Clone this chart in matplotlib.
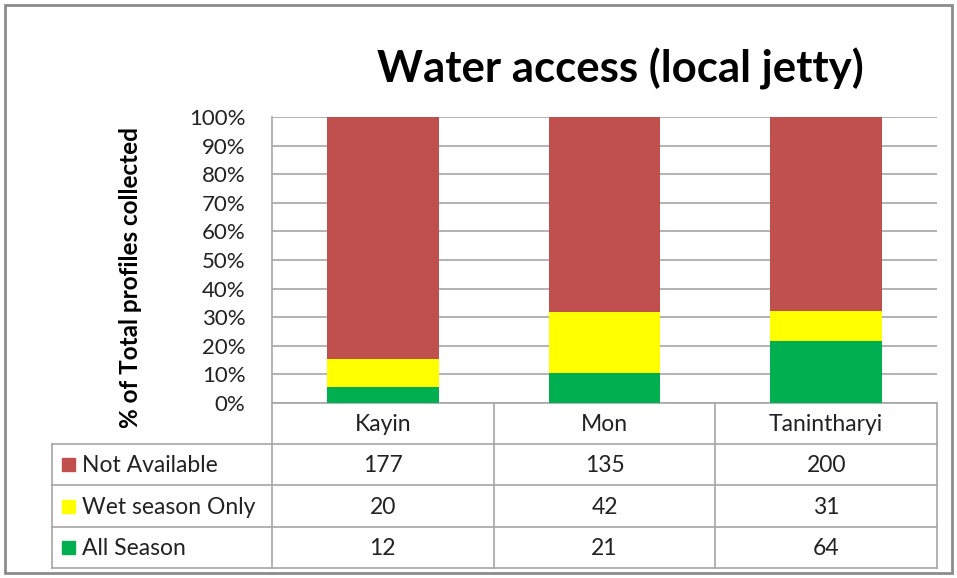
import matplotlib
matplotlib.use("Agg")
import matplotlib.pyplot as plt
from matplotlib.patches import Rectangle
import numpy as np

# ---- data ----
categories = ["Kayin", "Mon", "Tanintharyi"]
series_names = ["Not Available", "Wet season Only", "All Season"]
not_available = [177, 135, 200]
wet_season_only = [20, 42, 31]
all_season = [12, 21, 64]
y_ticks = [0, 10, 20, 30, 40, 50, 60, 70, 80, 90, 100]
title = "Water access (local jetty)"
y_label = "% of Total profiles collected"

colors = {"Not Available": "#C0504D", "Wet season Only": "#FFFF00", "All Season": "#00B050"}
grid_col = "#A6A6A6"
FONT = "Lato"
plt.rcParams["font.family"] = [FONT, "DejaVu Sans"]

W, H = 957, 578
fig = plt.figure(figsize=(W / 100, H / 100), dpi=100)

# plot area in pixels
L, R, T, B = 272, 937, 117, 403
ax = fig.add_axes([L / W, 1 - B / H, (R - L) / W, (B - T) / H])

na = np.array(not_available, float)
ws = np.array(wet_season_only, float)
al = np.array(all_season, float)
tot = na + ws + al
p_al = al / tot * 100
p_ws = ws / tot * 100
p_na = na / tot * 100
x = np.arange(len(categories))
bw = 0.505
ax.bar(x, p_al, bw, color=colors["All Season"], zorder=3)
ax.bar(x, p_ws, bw, bottom=p_al, color=colors["Wet season Only"], zorder=3)
ax.bar(x, p_na, bw, bottom=p_al + p_ws, color=colors["Not Available"], zorder=3)
ax.set_xlim(-0.5, len(categories) - 0.5)
ax.set_ylim(0, 100)
ax.set_yticks(y_ticks)
ax.set_yticklabels([f"{t}%" for t in y_ticks], fontsize=16, color="#222222")
ax.tick_params(axis="y", length=0, pad=19)
ax.set_xticks([])
ax.yaxis.grid(True, color=grid_col, linewidth=1.2, zorder=0)
for s in ["top", "right"]:
    ax.spines[s].set_visible(False)
ax.spines["left"].set_color(grid_col)
ax.spines["left"].set_linewidth(1.2)
ax.spines["bottom"].set_color(grid_col)
ax.spines["bottom"].set_linewidth(1.2)
ax.set_facecolor("none")

# overlay in pixel coordinates for table, title, borders
ov2 = fig.add_axes([0, 0, 1, 1], zorder=5)
ov2.set_xlim(0, W)
ov2.set_ylim(H, 0)
ov2.axis("off")
ov2.patch.set_alpha(0)

# outer frame
ov2.add_patch(Rectangle((5, 5), 947, 568, fill=False, edgecolor="#8C8C8C", linewidth=2))

# title and y label
ov2.text(620, 69, title, fontsize=31.5, fontweight="bold", ha="center", va="center", color="black")
ov2.text(130, 278, y_label, fontsize=17.5, fontweight="bold", rotation=90, ha="center", va="center", color="black")

# table
col_x = [L + (R - L) * i / len(categories) for i in range(len(categories) + 1)]
row_y = [403, 444, 485, 527, 568]
lw = 1.2
for cx in col_x:
    ov2.plot([cx, cx], [row_y[0], row_y[-1]], color=grid_col, lw=lw)
ov2.plot([52, 52], [row_y[1], row_y[-1]], color=grid_col, lw=lw)
for ry in row_y[1:]:
    ov2.plot([52, R], [ry, ry], color=grid_col, lw=lw)

tfs = 16.5
for i, c in enumerate(categories):
    cx = (col_x[i] + col_x[i + 1]) / 2
    ov2.text(cx, (row_y[0] + row_y[1]) / 2 + 1, c, fontsize=tfs, ha="center", va="center", color="#222222")

rows = [("Not Available", not_available), ("Wet season Only", wet_season_only), ("All Season", all_season)]
for r, (name, vals) in enumerate(rows):
    yc = (row_y[r + 1] + row_y[r + 2]) / 2
    ov2.add_patch(Rectangle((62, yc - 6.5), 13, 13, color=colors[name]))
    ov2.text(82, yc + 1, name, fontsize=tfs, ha="left", va="center", color="#222222")
    for i, v in enumerate(vals):
        cx = (col_x[i] + col_x[i + 1]) / 2
        ov2.text(cx, yc + 1, str(v), fontsize=tfs, ha="center", va="center", color="#222222")

fig.savefig("out.png", dpi=100, facecolor="white")
